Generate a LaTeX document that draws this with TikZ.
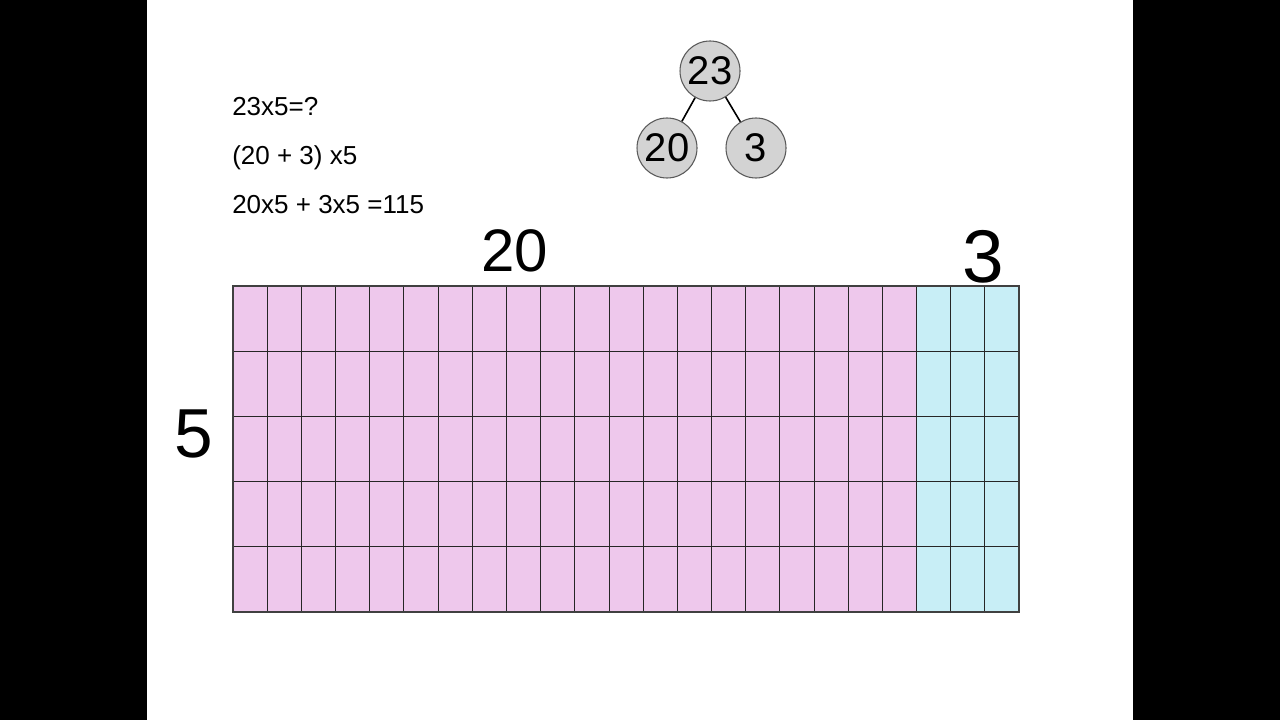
\documentclass[tikz,border=0pt]{standalone}
\usepackage{fontspec}
\setmainfont{Liberation Sans}
\definecolor{pinkcell}{RGB}{238,200,236}
\definecolor{cyancell}{RGB}{200,238,246}
\definecolor{circfill}{RGB}{211,211,211}
\definecolor{circline}{RGB}{90,90,90}
\begin{document}
\begin{tikzpicture}[x=0.75pt,y=-0.75pt,
  eqtext/.style={anchor=base west,inner sep=0pt,font=\fontsize{19.5pt}{22pt}\selectfont},
  hand/.style={anchor=base,inner sep=0pt},
  bubble/.style={circle,draw=circline,line width=0.8pt,fill=circfill,minimum size=45pt,inner sep=0pt,font=\fontsize{30pt}{32pt}\selectfont},
  link/.style={line width=1.2pt,black},
  gridline/.style={line width=0.6pt,black!85}]
\useasboundingbox (0,0) rectangle (1280,720);
\fill[black] (0,0) rectangle (1280,720);
\fill[white] (147,0) rectangle (1133,720);
% equations
\node[eqtext] (e1) at (232,116) {23x5=?};
\node[eqtext] (e2) at (232,165) {(20 + 3) x5};
\node[eqtext] (e3) at (232,214) {20x5 + 3x5 =115};
% number bond
\node[bubble] (n23) at (710,71) {23};
\node[bubble] (n20) at (667,148) {20};
\node[bubble] (n3) at (756,148) {3};
\draw[link] (n23) -- (n20);
\draw[link] (n23) -- (n3);
% labels
\node[hand,font=\fontsize{45pt}{48pt}\selectfont] (l20) at (515,271) {20};
\node[hand,font=\fontsize{56pt}{60pt}\selectfont] (l3) at (983,282) {3};
\node[hand,font=\fontsize{52pt}{56pt}\selectfont] (l5) at (194,457) {5};
% grid
\fill[pinkcell] (233,286) rectangle (916.48,612);
\fill[cyancell] (916.48,286) rectangle (1019,612);
\foreach \i in {1,...,22} {\draw[gridline] ({233+\i*34.174},286) -- ({233+\i*34.174},612);}
\foreach \j in {1,...,4} {\draw[gridline] (233,{286+\j*65.2}) -- (1019,{286+\j*65.2});}
\draw[line width=1pt,black!75] (233,286) rectangle (1019,612);
\end{tikzpicture}
\end{document}
